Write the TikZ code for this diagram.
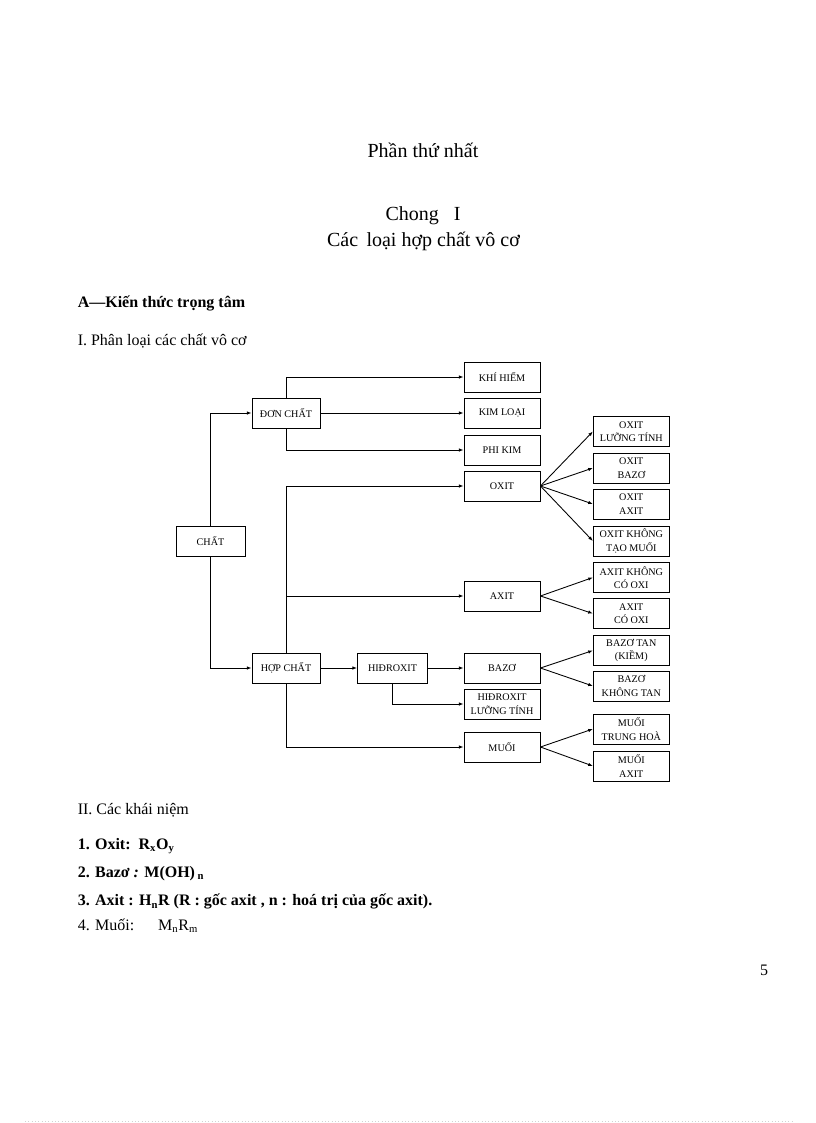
\documentclass[tikz,border=0pt]{standalone}
\usepackage{fontspec}
\setmainfont{Liberation Serif}
\usetikzlibrary{arrows.meta}
\begin{document}
\begin{tikzpicture}[x=0.75pt,y=-0.75pt,
  box/.style={draw, line width=0.65pt, minimum width=57pt, minimum height=22.5pt, inner sep=0pt, align=center, font=\fontsize{7.6}{10.2}\selectfont},
  conn/.style={line width=0.65pt},
  arr/.style={conn, -{Latex[length=3.5pt,width=2.6pt]}},
  txt/.style={anchor=base west, inner sep=0pt},
  ctxt/.style={anchor=base, inner sep=0pt}]
\useasboundingbox (0,0) rectangle (816,1123);
% headings
\node[ctxt, font=\fontsize{15}{18}\selectfont] (t1) at (423,158) {Phần thứ nhất};
\node[ctxt, font=\fontsize{15}{18}\selectfont] (t2) at (423,220) {Chong\ \ \ I};
\node[ctxt, font=\fontsize{15}{18}\selectfont] (t3) at (423.5,246.5) {Các\, loại hợp chất vô cơ};
\node[txt, font=\fontsize{12}{14}\selectfont\bfseries] (ta) at (77.5,307.3) {A---Kiến thức trọng tâm};
\node[txt, font=\fontsize{12}{14}\selectfont] (tb) at (77.5,345.7) {I. Phân loại các chất vô cơ};
% left/middle boxes
\node[box, minimum width=51.75pt] (chat) at (210.5,541) {CHẤT};
\node[box, minimum width=51pt] (don) at (286,413) {ĐƠN CHẤT};
\node[box, minimum width=51pt] (hop) at (286,668) {HỢP CHẤT};
\node[box, minimum width=52.5pt] (hdx) at (392.5,668) {HIĐROXIT};
\node[box] (khi) at (502,377) {KHÍ HIẾM};
\node[box] (kim) at (502,413) {KIM LOẠI};
\node[box] (phi) at (502,450) {PHI KIM};
\node[box] (oxit) at (502,486) {OXIT};
\node[box] (axit) at (502,596) {AXIT};
\node[box] (bazo) at (502,668) {BAZƠ};
\node[box] (hdlt) at (502,704) {HIĐROXIT\\LƯỠNG TÍNH};
\node[box] (muoi) at (502,747) {MUỐI};
% right boxes
\node[box] (olt) at (631.3,431.5) {OXIT\\LƯỠNG TÍNH};
\node[box] (ob) at (631.3,468) {OXIT\\BAZƠ};
\node[box] (oa) at (631.3,504) {OXIT\\AXIT};
\node[box] (oktm) at (631.3,541) {OXIT KHÔNG\\TẠO MUỐI};
\node[box] (akco) at (631.3,577.5) {AXIT KHÔNG\\CÓ OXI};
\node[box] (aco) at (631.3,613.5) {AXIT\\CÓ OXI};
\node[box] (btk) at (631.3,650.5) {BAZƠ TAN\\(KIỀM)};
\node[box] (bkt) at (631.3,686) {BAZƠ\\KHÔNG TAN};
\node[box] (mth) at (631.3,729) {MUỐI\\TRUNG HOÀ};
\node[box] (ma) at (631.3,766) {MUỐI\\AXIT};
% connectors
\draw[arr] (chat.north) |- (don.west);
\draw[arr] (chat.south) |- (hop.west);
\draw[arr] (don.north) |- (khi.west);
\draw[arr] (don.east) -- (kim.west);
\draw[arr] (don.south) |- (phi.west);
\draw[arr] (hop.north) |- (oxit.west);
\draw[arr] (hop.north) |- (axit.west);
\draw[arr] (hop.south) |- (muoi.west);
\draw[arr] (hop.east) -- (hdx.west);
\draw[arr] (hdx.east) -- (bazo.west);
\draw[arr] (hdx.south) |- (hdlt.west);
\foreach \t in {olt,ob,oa,oktm} \draw[arr] (oxit.east) -- (\t.west);
\foreach \t in {akco,aco} \draw[arr] (axit.east) -- (\t.west);
\foreach \t in {btk,bkt} \draw[arr] (bazo.east) -- (\t.west);
\foreach \t in {mth,ma} \draw[arr] (muoi.east) -- (\t.west);
% concepts
\node[txt, font=\fontsize{12}{14}\selectfont] (c0) at (77.5,814) {II. Các khái niệm};
\node[txt, font=\fontsize{12}{14}\selectfont\bfseries] (c1) at (77.5,849.3) {1. Oxit:\ \ R\textsubscript{x}O\textsubscript{y}};
\node[txt, font=\fontsize{12}{14}\selectfont\bfseries] (c2) at (77.5,877.3) {2. Bazơ \textit{:} M(OH)\,\textsubscript{n}};
\node[txt, font=\fontsize{12}{14}\selectfont\bfseries] (c3) at (77.5,905.7) {3. Axit : H\textsubscript{n}R (R : gốc axit , n : hoá trị của gốc axit).};
\node[txt, font=\fontsize{12}{14}\selectfont] (c4) at (77.5,930) {4. Muối:\hspace{18pt}M\textsubscript{n}R\textsubscript{m}};
\node[ctxt, font=\fontsize{12}{14}\selectfont] (pg) at (764,975) {5};
\draw[gray!35, dotted, line width=0.5pt] (25,1121.5) -- (792,1121.5);
\end{tikzpicture}
\end{document}
